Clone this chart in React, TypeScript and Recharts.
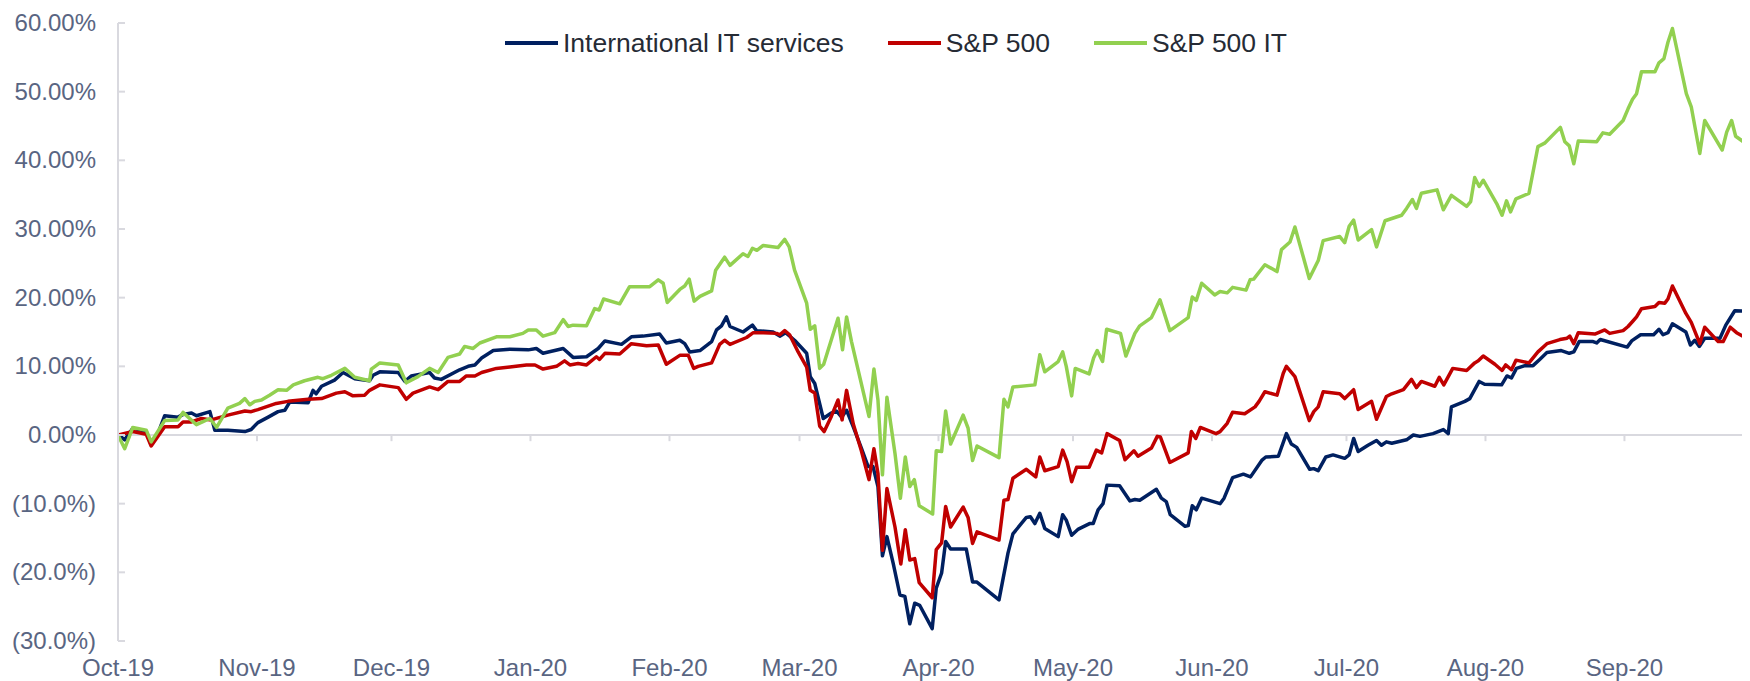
import React from 'react';
import { LineChart, Line, XAxis, YAxis, ReferenceLine } from 'recharts';

// x axis: days since 1 Oct 2019, one tick per month
const monthLabels = ['Oct-19', 'Nov-19', 'Dec-19', 'Jan-20', 'Feb-20', 'Mar-20', 'Apr-20', 'May-20', 'Jun-20', 'Jul-20', 'Aug-20', 'Sep-20'];
const monthStartDays = [0, 31, 61, 92, 123, 152, 183, 213, 244, 274, 305, 336];
const yTicks = [-30, -20, -10, 0, 10, 20, 30, 40, 50, 60];

// [day, % change since 1 Oct 2019]
const itServices: [number, number][] = [
  [0, 0.1], [1.5, -0.7], [3.3, 1.0], [6.3, 0.5], [7.4, -1.3], [8.9, 0.2], [10.4, 2.8], [13.4, 2.6], [14.5, 3.0], [16.4, 3.2],
  [17.5, 2.8], [20.5, 3.4], [21.6, 0.7], [24.5, 0.7], [28.3, 0.5], [29.7, 0.8], [31.2, 1.8], [33.5, 2.6], [35.7, 3.4], [37.2, 3.6],
  [38.3, 4.8], [42.4, 4.7], [43.5, 6.5], [44.2, 6.0], [45.4, 7.1], [48.3, 8.0], [50.2, 9.1], [52.8, 8.2], [56.1, 7.9], [56.9, 8.7],
  [58.4, 9.2], [62.5, 9.1], [64, 7.8], [65.4, 8.6], [69.5, 9.1], [70.6, 8.3], [72.1, 8.1], [76.2, 9.5], [78.1, 10.0], [79.6, 10.2],
  [81.1, 11.2], [83.7, 12.3], [87.4, 12.5], [91.5, 12.4], [93.3, 12.6], [94.8, 11.9], [99.3, 12.6], [101.5, 11.3], [104.5, 11.4], [107.1, 12.6],
  [108.6, 13.7], [112.3, 13.2], [114.5, 14.3], [117.1, 14.4], [120.8, 14.7], [122.3, 13.4], [125.3, 13.8], [126.4, 13.3], [127.5, 12.1], [129.8, 12.3],
  [132.4, 13.6], [133.5, 15.3], [134.6, 15.9], [135.7, 17.2], [136.5, 15.8], [139.4, 15.0], [141.5, 16.0], [142.4, 15.2], [146.1, 15.0], [147.6, 14.4],
  [148.9, 14.9], [150.9, 13.8], [153.6, 11.9], [154.4, 8.5], [155.4, 7.5], [157.3, 2.4], [159.1, 3.2], [160.2, 3.5], [161.4, 2.6], [162.5, 3.6],
  [164, 1.2], [165.8, -1.9], [167.3, -4.6], [168.4, -4.6], [169.5, -7.5], [170.5, -17.6], [171.5, -14.8], [172.9, -18.7], [174.4, -23.3], [175.5, -23.5],
  [176.6, -27.5], [177.7, -24.5], [178.8, -24.8], [181.6, -28.2], [182.5, -22.3], [183.7, -20.1], [184.6, -15.5], [185.7, -16.6], [189.2, -16.6], [190.6, -21.4],
  [191.5, -21.4], [196.5, -24.0], [198.5, -17.2], [199.6, -14.4], [202.6, -12.0], [203.5, -11.9], [204.5, -12.9], [205.6, -11.4], [206.7, -13.6], [209.7, -14.8],
  [210.7, -11.6], [211.5, -12.4], [212.7, -14.6], [214.2, -13.7], [216.7, -12.9], [217.5, -12.9], [218.6, -10.9], [219.7, -10.0], [220.6, -7.3], [223.4, -7.4],
  [225.7, -9.6], [226.8, -9.4], [227.9, -9.5], [231.6, -7.9], [232.7, -9.2], [233.8, -9.7], [234.7, -11.6], [238, -13.3], [238.7, -13.2], [239.6, -10.3],
  [240.5, -10.9], [241.7, -9.2], [245.8, -10.0], [246.7, -9.2], [248.6, -6.2], [251, -5.7], [252.6, -6.1], [255.1, -3.7], [256, -3.2], [258.8, -3.1],
  [260.6, 0.2], [261.7, -1.3], [262.9, -1.8], [265.8, -5.0], [266.7, -4.9], [267.7, -5.2], [269.4, -3.2], [271, -2.9], [273.6, -3.4], [274.6, -2.9],
  [275.6, -0.5], [276.6, -2.4], [278.8, -1.5], [280.7, -0.8], [281.8, -1.5], [282.9, -1.0], [284.1, -1.2], [287.4, -0.7], [288.9, 0], [290.4, -0.2],
  [293.3, 0.2], [295.6, 0.8], [296.7, 0.2], [297.4, 4.1], [300.4, 4.9], [301.5, 5.3], [303.6, 7.8], [304.8, 7.4], [308.6, 7.3], [309.8, 8.6],
  [310.8, 8.3], [311.9, 9.7], [313.8, 10.1], [315.6, 10.1], [317.1, 11.0], [318.7, 12.0], [321.9, 12.3], [323.7, 11.9], [324.7, 12.1], [325.9, 13.6],
  [329, 13.6], [329.8, 13.4], [330.6, 13.9], [336.6, 12.8], [337.6, 13.7], [339.6, 14.6], [342.5, 14.6], [343.7, 15.4], [344.6, 14.6], [345.7, 14.9],
  [346.7, 16.2], [349.7, 15.0], [350.7, 13.1], [351.7, 13.8], [352.7, 12.9], [353.9, 14.1], [357.3, 14.1], [358.6, 16.0], [360.6, 18.1], [364, 18.0],
];

const sp500: [number, number][] = [
  [0, 0], [3.3, 0.5], [6.3, 0.1], [7.4, -1.6], [10.4, 1.2], [13.4, 1.2], [14.5, 1.9], [16.4, 1.9], [18.6, 2.4], [20.8, 2.2],
  [24.5, 2.9], [28.3, 3.5], [29.7, 3.4], [31.2, 3.7], [35.3, 4.6], [37.9, 4.9], [42.4, 5.2], [45.4, 5.3], [48.7, 6.1], [50.6, 6.3],
  [52.4, 5.7], [55, 5.8], [56.1, 6.5], [58.4, 7.3], [62.5, 6.9], [64.3, 5.2], [65.8, 6.1], [69.5, 7.0], [71.4, 6.6], [73.6, 7.8],
  [76.2, 7.8], [77.7, 8.6], [79.6, 8.6], [81.1, 9.1], [84.4, 9.7], [87.4, 9.9], [91.1, 10.2], [93, 10.2], [94.8, 9.6], [97.8, 10.0],
  [99.6, 10.8], [100.8, 10.2], [102.6, 10.4], [104.5, 10.2], [106.7, 11.4], [107.4, 11.0], [108.6, 11.9], [111.9, 11.8], [114.5, 13.3], [117.9, 13.0],
  [120.5, 13.1], [122.3, 10.3], [125.3, 11.6], [127.2, 11.6], [128.4, 9.7], [129.4, 10.0], [132.4, 10.5], [134.2, 13.2], [135.3, 13.8], [136.5, 13.2],
  [140.2, 14.2], [141.7, 14.9], [143.9, 14.9], [146.9, 14.8], [147.6, 14.6], [148.7, 15.2], [149.8, 14.6], [151.7, 12.1], [153.6, 9.9], [154.4, 6.5],
  [155.4, 6.1], [156.5, 1.3], [157.5, 0.5], [159.1, 2.7], [160.6, 5.1], [161.5, 2.2], [162.5, 6.5], [164, 1.6], [165.8, -2.3], [167.5, -6.5],
  [168.6, -2.0], [169.5, -5.6], [170.5, -16.8], [171.5, -7.8], [173.3, -13.4], [174.6, -18.8], [175.6, -13.8], [176.6, -18.2], [177.7, -18.0], [178.7, -21.5],
  [181.6, -23.7], [182.5, -16.7], [183.7, -15.7], [184.6, -10.4], [185.7, -13.4], [188.5, -10.5], [189.6, -12.0], [190.6, -15.8], [191.6, -14.1], [196.5, -15.3],
  [197.6, -9.5], [198.5, -9.4], [199.6, -6.3], [202.6, -5.0], [204.7, -6.1], [205.6, -3.2], [206.7, -5.2], [209.7, -4.6], [210.7, -2.2], [211.7, -3.9],
  [212.7, -6.8], [213.8, -4.7], [216.6, -4.7], [218.2, -2.2], [219.4, -2.6], [220.6, 0.2], [223.4, -0.8], [224.6, -3.6], [226.6, -2.3], [227.5, -3.1],
  [230.5, -1.9], [231.8, -0.2], [232.5, -0.3], [234.6, -4.0], [238.7, -2.6], [239.4, 0.5], [240.4, -0.5], [241.4, 1.1], [244.9, 0.2], [245.8, 0.5],
  [247.4, 1.7], [248.6, 3.3], [251.3, 3.1], [253.6, 4.1], [254.5, 4.9], [255.8, 6.3], [258.5, 5.8], [259.9, 9.0], [260.6, 10.0], [262.5, 8.5],
  [265.7, 2.1], [266.7, 3.4], [267.7, 4.1], [268.8, 6.3], [272.5, 6.0], [273.6, 5.3], [275.6, 6.6], [276.6, 3.7], [279.6, 4.9], [280.7, 2.3],
  [282.9, 5.6], [284.1, 6.0], [286.7, 6.6], [288.5, 8.1], [289.6, 6.9], [290.7, 7.8], [293.7, 7.1], [294.7, 8.4], [295.7, 7.3], [297.7, 9.7],
  [300.8, 9.4], [302.6, 10.5], [303.4, 10.8], [304.5, 11.5], [307.1, 10.3], [308.7, 9.4], [309.5, 10.2], [310.8, 9.5], [311.8, 10.9], [314.7, 10.5],
  [316.7, 12.1], [318.7, 13.3], [321.6, 13.9], [323.2, 14.1], [323.8, 14.4], [324.7, 13.3], [325.7, 14.9], [329.4, 14.7], [331.6, 15.3], [332.7, 14.8],
  [335.7, 15.2], [336.8, 15.8], [337.9, 16.6], [338.7, 17.2], [339.8, 18.4], [342.8, 18.7], [343.7, 19.3], [345, 19.2], [345.7, 19.8], [346.7, 21.7],
  [349.7, 17.7], [350.9, 16.4], [352.8, 13.3], [353.9, 15.7], [356.9, 13.6], [358, 13.6], [359.6, 15.7], [361, 14.9], [364, 13.8],
];

const sp500It: [number, number][] = [
  [0, 0], [1.5, -2.0], [3.3, 1.1], [6.3, 0.7], [7.4, -1.0], [10.4, 2.1], [13.4, 2.2], [14.5, 3.3], [17.5, 1.5], [20.5, 2.4],
  [22, 1.1], [24.5, 3.9], [27.1, 4.6], [28.3, 5.3], [29.4, 4.4], [30.5, 4.9], [32, 5.1], [33.8, 5.8], [35.7, 6.6], [37.6, 6.5],
  [39.1, 7.3], [41.6, 7.9], [44.6, 8.4], [45.7, 8.2], [47.6, 8.7], [50.6, 9.7], [52.8, 8.4], [56.1, 7.9], [56.5, 9.6], [58.4, 10.5],
  [62.5, 10.2], [64.3, 7.6], [66.9, 8.5], [69.5, 9.7], [71.4, 9.1], [73.6, 11.3], [76.2, 11.8], [77.3, 12.9], [79.2, 12.6], [80.7, 13.4],
  [84.4, 14.3], [87.4, 14.3], [90.3, 14.8], [91.5, 15.3], [93.3, 15.3], [94.8, 14.4], [97.4, 14.9], [99.3, 16.8], [100.4, 15.8], [101.5, 16.0],
  [104.5, 15.9], [106.3, 18.4], [107.3, 18.2], [108.3, 19.8], [111.9, 19.1], [114.1, 21.6], [118.6, 21.6], [120.5, 22.6], [121.6, 22.1], [122.5, 19.3],
  [125.3, 21.2], [126.4, 21.7], [127.4, 22.7], [128.5, 19.5], [129.8, 20.2], [132.4, 21.0], [133.3, 24.0], [135.3, 25.9], [136.5, 24.7], [139.4, 26.4],
  [140.5, 26.0], [141.5, 27.2], [142.5, 26.9], [143.9, 27.6], [147.2, 27.3], [148.7, 28.5], [149.7, 27.4], [150.9, 24.0], [153.6, 19.2], [154.4, 15.4],
  [155.4, 15.9], [156.5, 9.7], [157.4, 10.3], [160.6, 17.0], [161.6, 12.4], [162.5, 17.2], [163.6, 13.6], [167.5, 2.7], [168.6, 9.6], [169.5, 5.1],
  [170.5, -5.8], [171.5, 5.5], [173.3, -2.7], [174.5, -9.2], [175.6, -3.2], [176.6, -7.5], [177.6, -6.5], [178.7, -10.3], [181.7, -11.5], [182.5, -2.3],
  [183.7, -2.4], [184.6, 3.5], [185.7, -1.3], [188.5, 2.9], [189.6, 1.0], [190.6, -3.7], [191.6, -1.6], [196.5, -3.3], [197.6, 5.2], [198.5, 4.1],
  [199.6, 7.0], [204.5, 7.3], [205.6, 11.7], [206.7, 9.2], [209.7, 10.7], [210.7, 12.1], [211.5, 10.0], [212.7, 5.7], [213.5, 9.7], [216.6, 8.9],
  [217.6, 11.2], [218.4, 12.3], [219.6, 10.7], [220.5, 15.4], [223.6, 14.8], [224.8, 11.5], [226.8, 14.8], [227.9, 15.9], [230.5, 17.1], [232.4, 19.7],
  [234.6, 15.2], [238.7, 17.1], [239.6, 20.1], [240.5, 19.6], [241.7, 22.1], [244.6, 20.4], [245.8, 20.9], [247.4, 20.7], [248.6, 21.5], [251.6, 21.1],
  [252.5, 22.6], [253.3, 22.7], [255.8, 24.8], [258.5, 23.8], [259.5, 27.0], [261.4, 28.1], [262.5, 30.3], [265.7, 22.8], [267.7, 25.4], [268.8, 28.3],
  [272.5, 28.9], [273.6, 28.0], [274.6, 30.4], [275.6, 31.3], [276.6, 28.4], [279.6, 29.9], [280.7, 27.4], [282.6, 31.2], [286.3, 32.0], [287.4, 33.0],
  [288.7, 34.3], [289.6, 33.0], [290.7, 35.2], [294.2, 35.7], [295.6, 32.8], [297.4, 34.9], [300.8, 33.3], [301.7, 34.0], [302.6, 37.5], [303.6, 36.2],
  [304.5, 37.1], [306, 35.4], [307.5, 33.7], [308.7, 32.0], [309.7, 34.1], [310.6, 32.5], [311.8, 34.4], [314.7, 35.2], [316.7, 42.0], [318.2, 42.5],
  [321.7, 44.8], [322.7, 42.7], [323.7, 42.1], [324.7, 39.5], [325.7, 42.8], [329.8, 42.7], [331.2, 44.0], [332.7, 43.8], [335.7, 45.8], [336.8, 47.5],
  [337.8, 48.9], [338.7, 49.7], [339.8, 52.9], [342.8, 52.9], [343.7, 54.2], [344.8, 54.8], [345.7, 57.2], [346.7, 59.2], [349.8, 49.7], [350.9, 47.8],
  [352.8, 41.0], [353.9, 45.8], [357.8, 41.5], [358.8, 44.1], [359.9, 45.8], [360.8, 43.5], [363.2, 42.4], [364, 41.0],
];

const seriesList = [
  { name: 'International IT services', color: '#002060', points: itServices },
  { name: 'S&P 500', color: '#C00000', points: sp500 },
  { name: 'S&P 500 IT', color: '#92D050', points: sp500It },
];

const FONT = '"Liberation Sans", Arial, sans-serif';
const AXIS_COLOR = '#d9d9df';
const LABEL_COLOR = '#596582';

const formatPct = (v: number) => (v < 0 ? `(${Math.abs(v).toFixed(1)}%)` : `${v.toFixed(2)}%`);

// y tick: label on the left, short tick pointing into the plot
const YTick = (props: any) => {
  const { x, y, payload } = props;
  return (
    <g>
      <line x1={x} x2={x + 7} y1={y} y2={y} stroke={AXIS_COLOR} strokeWidth={2} />
      <text x={x - 22} y={y} dy={8} textAnchor="end" fill={LABEL_COLOR} fontSize={24} fontFamily={FONT}>
        {formatPct(payload.value)}
      </text>
    </g>
  );
};

const XTick = (props: any) => {
  const { x, y, payload } = props;
  const idx = monthStartDays.indexOf(payload.value);
  return (
    <text x={x} y={y} dy={35} textAnchor="middle" fill={LABEL_COLOR} fontSize={24} fontFamily={FONT}>
      {monthLabels[idx]}
    </text>
  );
};

const App: React.FC = () => {
  return (
    <div style={{ position: 'relative', width: 1742, height: 673 }}>
      <LineChart width={1742} height={673} margin={{ top: 15, right: 0, bottom: 0, left: 0 }}>
        <XAxis
          type="number"
          dataKey="day"
          domain={[0, 364]}
          ticks={monthStartDays}
          allowDataOverflow
          axisLine={false}
          tickLine={false}
          tickSize={0}
          tickMargin={0}
          height={40}
          tick={<XTick />}
        />
        <YAxis
          type="number"
          domain={[-30, 60]}
          ticks={yTicks}
          width={110}
          axisLine={{ stroke: AXIS_COLOR, strokeWidth: 2 }}
          tickLine={false}
          tickSize={0}
          tickMargin={0}
          tick={<YTick />}
        />
        <ReferenceLine y={0} stroke={AXIS_COLOR} strokeWidth={2} />
        {monthStartDays.slice(1).map(d => (
          <ReferenceLine
            key={d}
            segment={[{ x: d, y: 0 }, { x: d, y: -0.9 }]}
            stroke={AXIS_COLOR}
            strokeWidth={2}
          />
        ))}
        {seriesList.map(s => (
          <Line
            key={s.name}
            data={s.points.map(([day, value]) => ({ day, value }))}
            dataKey="value"
            name={s.name}
            type="linear"
            stroke={s.color}
            strokeWidth={3.5}
            strokeLinejoin="round"
            dot={false}
            activeDot={false}
            isAnimationActive={false}
          />
        ))}
      </LineChart>

      {/* legend */}
      <div
        style={{
          position: 'absolute',
          left: 497,
          top: 20,
          height: 30,
          display: 'flex',
          alignItems: 'center',
          fontFamily: FONT,
          fontSize: 26.5,
          color: '#262b35',
          whiteSpace: 'nowrap'
        }}
      >
        {seriesList.map(s => (
          <div key={s.name} style={{ display: 'flex', alignItems: 'center', marginRight: 44 }}>
            <div style={{ width: 53, height: 3.5, background: s.color, marginRight: 5 }} />
            <span style={{ lineHeight: '30px' }}>{s.name}</span>
          </div>
        ))}
      </div>
    </div>
  );
};

export default App;
